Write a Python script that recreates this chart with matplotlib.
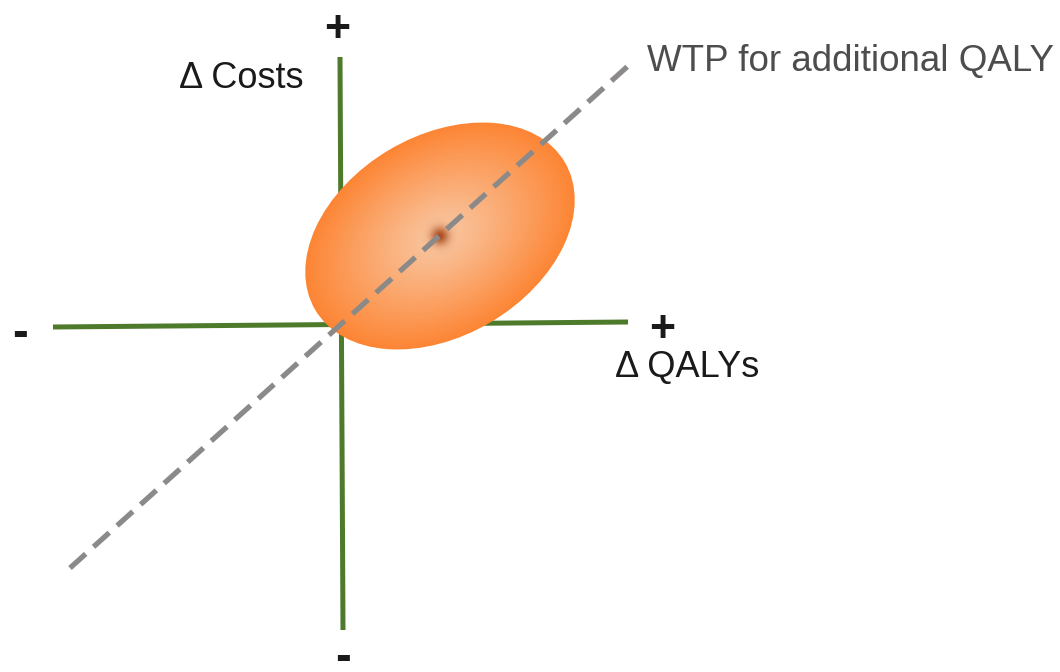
import numpy as np
import matplotlib
matplotlib.use("Agg")
import matplotlib.pyplot as plt
from matplotlib.patches import Ellipse
from matplotlib.colors import to_rgb

plt.rcParams['font.family'] = ['Liberation Sans', 'DejaVu Sans']

# ---- diagram geometry (pixel space of the 1060x672 canvas) ----
v_axis_x = [340, 343]
v_axis_y = [57, 630]
h_axis_x = [53, 628]
h_axis_y = [327, 322]
wtp_x = [70, 628]
wtp_y = [568, 66]
ellipse_center = [440, 236]
ellipse_semi_axes = [145, 100]
ellipse_angle = -30.7

label_texts = ["+", "Δ Costs", "WTP for additional QALY", "+", "Δ QALYs", "-", "-"]

W, H = 1060, 672
fig = plt.figure(figsize=(W / 100, H / 100), dpi=100)
ax = fig.add_axes([0, 0, 1, 1])
ax.set_xlim(0, W)
ax.set_ylim(H, 0)
ax.axis('off')

green = '#4e7a2c'
ax.plot(v_axis_x, v_axis_y, color=green, lw=3.6, solid_capstyle='butt', zorder=1)
ax.plot(h_axis_x, h_axis_y, color=green, lw=3.6, solid_capstyle='butt', zorder=1)

# ---- ellipse with radial gradient ----
cx, cy = ellipse_center
a, b = ellipse_semi_axes
th = np.deg2rad(ellipse_angle)
x0, x1 = cx - a - 5, cx + a + 5
y0, y1 = cy - a - 5, cy + a + 5
nx, ny = 600, 600
xs = np.linspace(x0, x1, nx)
ys = np.linspace(y0, y1, ny)
X, Y = np.meshgrid(xs, ys)
dx, dy = X - cx, Y - cy
u = dx * np.cos(th) + dy * np.sin(th)
v = -dx * np.sin(th) + dy * np.cos(th)
r = np.sqrt((u / a) ** 2 + (v / b) ** 2)
rr = np.clip(r, 0, 1)
c_in = np.array(to_rgb('#f9c8a4'))
c_out = np.array(to_rgb('#fd8534'))
t = rr ** 1.1
img = c_in[None, None, :] * (1 - t[..., None]) + c_out[None, None, :] * t[..., None]
# dark center spot
d = np.sqrt(dx ** 2 + dy ** 2)
spot = 0.95 * np.exp(-(d / 9.0) ** 2)
c_spot = np.array(to_rgb('#a8471a'))
img = img * (1 - spot[..., None]) + c_spot[None, None, :] * spot[..., None]
im = ax.imshow(img, extent=(x0, x1, y1, y0), origin='upper', zorder=2, interpolation='bilinear')
ell = Ellipse((cx, cy), 2 * a, 2 * b, angle=ellipse_angle, facecolor='none', edgecolor='none')
ax.add_patch(ell)
im.set_clip_path(ell)

# ---- WTP dashed line ----
ax.plot(wtp_x, wtp_y, color='#8c8989', lw=3.8, dashes=(4, 2), dash_capstyle='butt', zorder=3)

# ---- labels ----
ax.text(337, 30, label_texts[0], fontsize=32, fontweight='bold', color='#1a1a1a', ha='center', va='center')
ax.text(241, 79, label_texts[1], fontsize=26, color='#1a1a1a', ha='center', va='center')
ax.text(647, 62, label_texts[2], fontsize=26.5, color='#4d4d4d', ha='left', va='center')
ax.text(662, 330, label_texts[3], fontsize=32, fontweight='bold', color='#1a1a1a', ha='center', va='center')
ax.text(687, 368, label_texts[4], fontsize=26, color='#1a1a1a', ha='center', va='center')
ax.text(20, 334, label_texts[5], fontsize=34, fontweight='bold', color='#1a1a1a', ha='center', va='center')
ax.text(343, 658, label_texts[6], fontsize=34, fontweight='bold', color='#1a1a1a', ha='center', va='center')

fig.savefig('out.png', dpi=100)
